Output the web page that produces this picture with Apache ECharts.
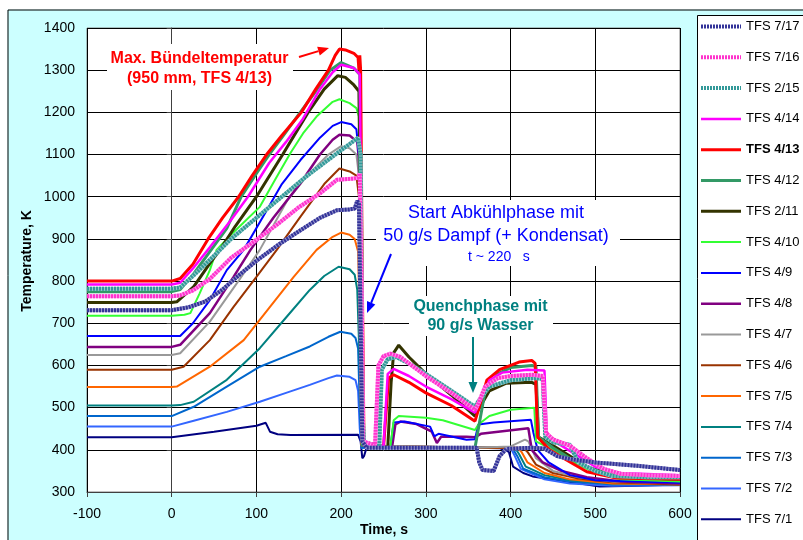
<!DOCTYPE html>
<html><head><meta charset="utf-8">
<script src="https://cdn.jsdelivr.net/npm/echarts@6/dist/echarts.min.js"></script>
<style>html,body{margin:0;padding:0;background:#fff}#c{width:803px;height:540px}</style>
</head><body><div id="c"></div>
<script>
// ---- data: [time s, temperature K] ----
const xMin = -100, xMax = 600, yMin = 300, yMax = 1400;
const tfs717 = [[-100,731],[0,731],[20,738],[40,752],[60,780],[80,815],[100,848],[125,885],[150,918],[175,950],[195,968],[210,970],[216,972],[219,990],[221,985],[223,700],[225,420],[230,405],[360,405],[363,370],[367,352],[380,350],[387,385],[395,402],[425,405],[440,403],[455,385],[470,378],[500,370],[550,362],[600,352]];
const tfs716 = [[-100,764],[0,764],[10,766],[25,778],[45,805],[70,855],[100,898],[125,935],[150,975],[175,1008],[195,1040],[215,1043],[220,1045],[222,1055],[224,800],[226,420],[240,410],[244,600],[250,622],[258,628],[270,620],[300,575],[330,535],[358,495],[362,510],[370,550],[385,570],[400,575],[425,578],[438,575],[442,440],[450,425],[470,410],[490,380],[510,355],[530,343],[560,340],[600,338]];
const tfs215 = [[-100,782],[0,782],[10,785],[25,812],[50,860],[70,900],[100,950],[130,1000],[160,1050],[193,1100],[210,1125],[220,1140],[223,1100],[225,500],[227,415],[245,408],[248,590],[255,615],[265,620],[280,605],[300,580],[330,540],[358,502],[362,515],[375,550],[400,565],[430,570],[438,568],[441,430],[450,418],[470,412],[480,370],[500,350],[520,338],[560,335],[600,335]];
const tfs414 = [[-100,792],[0,792],[10,796],[25,830],[45,880],[70,945],[90,1000],[115,1080],[135,1130],[155,1185],[175,1255],[190,1295],[200,1313],[215,1305],[222,1290],[224,900],[226,420],[250,408],[255,580],[262,592],[280,575],[300,550],[330,520],[358,488],[362,505],[375,565],[390,583],[420,590],[440,588],[443,430],[460,410],[480,385],[500,360],[530,345],[600,340]];
const tfs413 = [[-100,800],[0,800],[10,806],[25,840],[43,900],[60,950],[79,1000],[95,1050],[112,1100],[130,1145],[153,1200],[170,1255],[185,1300],[193,1335],[198,1350],[205,1348],[215,1340],[220,1330],[221,1300],[222,1335],[223,1300],[225,800],[227,410],[250,405],[256,570],[262,578],[280,560],[300,535],[330,505],[358,468],[362,495],[372,565],[387,590],[410,608],[425,612],[429,605],[432,430],[446,400],[466,376],[490,348],[525,333],[600,330]];
const tfs412 = [[-100,775],[0,775],[10,780],[25,815],[45,870],[65,925],[82,1000],[100,1055],[115,1100],[130,1140],[150,1195],[170,1250],[187,1300],[200,1318],[215,1305],[222,1290],[224,900],[226,415],[250,406],[358,405],[362,450],[370,540],[385,580],[400,595],[425,600],[430,598],[433,430],[450,405],[470,380],[500,350],[530,338],[600,330]];
const tfs211 = [[-100,749],[0,749],[6,751],[26,787],[45,842],[57,874],[75,930],[100,1000],[131,1100],[161,1200],[180,1255],[196,1287],[205,1283],[215,1265],[221,1250],[223,900],[225,420],[255,405],[259,560],[262,630],[268,648],[280,620],[300,580],[330,530],[358,480],[362,495],[375,540],[395,558],[425,560],[430,555],[433,430],[450,410],[470,385],[490,360],[520,340],[560,333],[600,330]];
const tfs410 = [[-100,718],[0,718],[15,720],[22,724],[33,771],[45,826],[53,874],[70,910],[104,976],[122,1040],[140,1103],[155,1150],[171,1190],[190,1225],[198,1231],[210,1222],[218,1210],[221,1190],[223,800],[225,410],[258,405],[262,470],[268,480],[300,476],[320,470],[358,447],[362,460],[375,480],[400,495],[428,500],[430,420],[450,400],[470,375],[500,345],[530,330],[600,325]];
const tfs49 = [[-100,670],[0,670],[10,670],[25,700],[45,755],[65,826],[85,874],[110,960],[130,1030],[152,1087],[175,1140],[190,1168],[200,1177],[212,1172],[218,1160],[221,1100],[223,700],[225,410],[258,405],[262,465],[275,467],[305,455],[310,432],[315,438],[348,424],[358,425],[362,460],[380,465],[424,471],[427,440],[432,400],[445,370],[470,340],[500,328],[600,322]];
const tfs48 = [[-100,644],[0,644],[10,649],[45,724],[73,810],[93,874],[120,950],[152,1032],[175,1100],[190,1135],[198,1147],[210,1145],[219,1130],[221,1090],[223,700],[225,410],[260,405],[264,460],[270,467],[289,461],[307,443],[313,416],[318,431],[348,431],[358,430],[365,438],[421,451],[425,400],[438,370],[460,350],[490,335],[530,325],[600,320]];
const tfs47 = [[-100,625],[0,625],[10,629],[45,704],[77,795],[104,874],[136,990],[160,1050],[185,1100],[200,1120],[210,1115],[218,1100],[221,1050],[223,700],[225,410],[360,405],[400,408],[417,424],[421,420],[430,380],[450,350],[480,335],[520,325],[600,320]];
const tfs46 = [[-100,590],[0,590],[14,597],[45,660],[73,739],[100,810],[124,874],[152,953],[180,1030],[198,1067],[210,1060],[218,1050],[221,1000],[223,700],[225,410],[360,405],[415,405],[420,395],[430,365],[450,345],[480,332],[520,323],[600,318]];
const tfs75 = [[-100,549],[0,549],[6,550],[45,597],[85,660],[116,739],[144,810],[171,874],[190,905],[200,915],[210,910],[216,900],[220,870],[222,700],[224,410],[360,405],[408,405],[413,395],[420,370],[440,345],[470,330],[520,320],[600,318]];
const tfs74 = [[-100,505],[0,505],[10,506],[26,514],[65,566],[104,641],[136,716],[163,779],[180,812],[197,834],[210,828],[216,815],[219,780],[222,600],[224,410],[360,405],[405,405],[410,390],[418,360],[440,340],[470,328],[520,320],[600,318]];
const tfs73 = [[-100,480],[0,480],[26,502],[65,550],[104,597],[135,622],[163,645],[185,668],[199,680],[212,675],[217,665],[220,640],[222,500],[224,405],[360,405],[402,405],[408,385],[415,355],[440,335],[470,325],[520,318],[600,318]];
const tfs72 = [[-100,455],[0,455],[26,469],[65,490],[104,514],[135,535],[163,554],[185,570],[195,576],[210,573],[217,565],[220,540],[222,450],[224,405],[360,405],[400,405],[405,385],[412,355],[440,330],[470,320],[520,315],[600,316]];
const tfs71 = [[-100,430],[0,430],[50,443],[100,457],[111,464],[116,443],[125,437],[140,435],[220,436],[223,420],[225,380],[227,385],[230,405],[360,405],[387,404],[398,395],[403,360],[415,345],[426,337],[466,325],[505,313],[550,315],[600,318]];
const seriesNames = ['TFS 7/17','TFS 7/16','TFS 2/15','TFS 4/14','TFS 4/13','TFS 4/12','TFS 2/11','TFS 4/10','TFS 4/9','TFS 4/8','TFS 4/7','TFS 4/6','TFS 7/5','TFS 7/4','TFS 7/3','TFS 7/2','TFS 7/1'];
const seriesData = [tfs717,tfs716,tfs215,tfs414,tfs413,tfs412,tfs211,tfs410,tfs49,tfs48,tfs47,tfs46,tfs75,tfs74,tfs73,tfs72,tfs71];

// ---- styles ----
const styles = [
  {c:'#333399', w:4, dash:[2,1], under:'#9999cc'},
  {c:'#ff33cc', w:4, dash:[2,1], under:'#ff99ee'},
  {c:'#339999', w:4, dash:[2,1], under:'#99cccc'},
  {c:'#ff00ff', w:2.5},
  {c:'#ff0000', w:3},
  {c:'#339966', w:3},
  {c:'#333300', w:3},
  {c:'#33ff33', w:2},
  {c:'#0000ff', w:2},
  {c:'#800080', w:2.5},
  {c:'#999999', w:2},
  {c:'#993300', w:2},
  {c:'#ff6600', w:2},
  {c:'#008080', w:2},
  {c:'#0066cc', w:2},
  {c:'#3366ff', w:2},
  {c:'#000080', w:2}
];
const FF = 'Liberation Sans, Arial, sans-serif';
const series = [];
for (let i = seriesNames.length - 1; i >= 0; i--) {
  const s = styles[i];
  const zz = 2 + 2 * (seriesNames.length - i);
  if (s.under) {
    series.push({
      name: seriesNames[i] + ' ', type: 'line', data: seriesData[i],
      symbol: 'none', showSymbol: false, clip: true, silent: true,
      lineStyle: {color: s.under, width: s.w}, itemStyle: {color: s.under}, z: zz - 1
    });
  }
  series.push({
    name: seriesNames[i], type: 'line', data: seriesData[i],
    symbol: 'none', showSymbol: false, clip: true,
    lineStyle: {color: s.c, width: s.w, type: s.dash || 'solid'},
    itemStyle: {color: s.c}, z: zz
  });
}
const legendData = seriesNames.map((n, i) => ({
  name: n,
  lineStyle: {color: styles[i].c, width: styles[i].w, type: styles[i].dash || 'solid'},
  itemStyle: {opacity: 0}
}));

const chart = echarts.init(document.getElementById('c'));
function arrow(x1, y1, x2, y2, color, w) {
  const a = Math.atan2(y2 - y1, x2 - x1), L = 11, H = 4.5;
  const bx = x2 - L * Math.cos(a), by = y2 - L * Math.sin(a);
  return [
    {type:'line', z:100, shape:{x1:x1,y1:y1,x2:bx,y2:by}, style:{stroke:color, lineWidth:w}},
    {type:'polygon', z:100, shape:{points:[[x2,y2],[bx + H*Math.sin(a), by - H*Math.cos(a)],[bx - H*Math.sin(a), by + H*Math.cos(a)]]}, style:{fill:color}}
  ];
}
chart.setOption({
  animation: false,
  backgroundColor: '#ccffff',
  grid: {left: 87, top: 28, width: 593, height: 464, show: true, backgroundColor: '#fff', borderColor: '#808080', borderWidth: 1},
  xAxis: {type: 'value', min: xMin, max: xMax, interval: 100,
    axisLine: {lineStyle: {color: '#404040'}}, axisTick: {length: 5, lineStyle: {color: '#404040'}},
    axisLabel: {color: '#000', fontSize: 14, fontFamily: FF, margin: 15, formatter: v => String(v)},
    splitLine: {show: true, lineStyle: {color: '#000', width: 1}}},
  yAxis: {type: 'value', min: yMin, max: yMax, interval: 100,
    axisLine: {show: true, lineStyle: {color: '#404040'}}, axisTick: {show: true, length: 5, lineStyle: {color: '#404040'}},
    axisLabel: {color: '#000', fontSize: 14, fontFamily: FF, margin: 12, formatter: v => String(v)},
    splitLine: {show: true, lineStyle: {color: '#000', width: 1}}},
  legend: {orient: 'vertical', left: 699, top: 20, padding: 0, itemWidth: 40, itemHeight: 14, itemGap: 17.8, itemTextGap: 1,
    data: legendData, selectedMode: false, itemStyle: {opacity: 0},
    textStyle: {fontSize: 13, fontFamily: FF, color: '#000', rich: {b: {fontSize: 13, fontFamily: FF, fontWeight: 'bold', color: '#000'}}},
    formatter: n => n === 'TFS 4/13' ? '{b|' + n + '}' : n, z: 10},
  series: series,
  graphic: {elements: [
    {type:'rect', z:1, shape:{x:0,y:0,width:803,height:9.5}, style:{fill:'#fff'}},
    {type:'rect', z:1, shape:{x:0,y:0,width:7.5,height:540}, style:{fill:'#fff'}},
    {type:'polyline', z:1, shape:{points:[[8,545],[8,10],[810,10]]}, style:{stroke:'#000', lineWidth:1, fill:null}},
    {type:'rect', z:1, shape:{x:697.5,y:15.5,width:120,height:540}, style:{fill:'#fff', stroke:'#000', lineWidth:1}},
    {type:'text', z:100, x:27.5, y:261, rotation:Math.PI/2, style:{text:'Temperature, K', font:'bold 14px ' + FF, fill:'#000', align:'center', verticalAlign:'middle'}},
    {type:'text', z:100, x:384, y:530, style:{text:'Time, s', font:'bold 14px ' + FF, fill:'#000', align:'center', verticalAlign:'middle'}},
    {type:'rect', z:99, shape:{x:107,y:44,width:186,height:46}, style:{fill:'#fff'}},
    {type:'text', z:100, x:199.5, y:59, style:{text:'Max. Bündeltemperatur', font:'bold 16px ' + FF, fill:'#ff0000', align:'center', verticalAlign:'middle'}},
    {type:'text', z:100, x:199.5, y:79, style:{text:'(950 mm, TFS 4/13)', font:'bold 16px ' + FF, fill:'#ff0000', align:'center', verticalAlign:'middle'}},
    ...arrow(299, 57, 329, 48, '#ff0000', 2),
    {type:'rect', z:99, shape:{x:376,y:200,width:244,height:66}, style:{fill:'#fff'}},
    {type:'text', z:100, x:496, y:213, style:{text:'Start Abkühlphase mit', font:'18px ' + FF, fill:'#0000ff', align:'center', verticalAlign:'middle'}},
    {type:'text', z:100, x:496, y:236, style:{text:'50 g/s Dampf (+ Kondensat)', font:'18px ' + FF, fill:'#0000ff', align:'center', verticalAlign:'middle'}},
    {type:'text', z:100, x:468, y:257, style:{text:'t ~ 220   s', font:'14px ' + FF, fill:'#0000ff', align:'left', verticalAlign:'middle'}},
    ...arrow(391, 254, 367, 313, '#0000ff', 2),
    {type:'rect', z:99, shape:{x:409,y:296,width:144,height:40}, style:{fill:'#fff'}},
    {type:'text', z:100, x:480.5, y:307, style:{text:'Quenchphase mit', font:'bold 16px ' + FF, fill:'#008080', align:'center', verticalAlign:'middle'}},
    {type:'text', z:100, x:480.5, y:326, style:{text:'90 g/s Wasser', font:'bold 16px ' + FF, fill:'#008080', align:'center', verticalAlign:'middle'}},
    ...arrow(473, 337, 473, 393, '#008080', 2)
  ]}
});
</script></body></html>
